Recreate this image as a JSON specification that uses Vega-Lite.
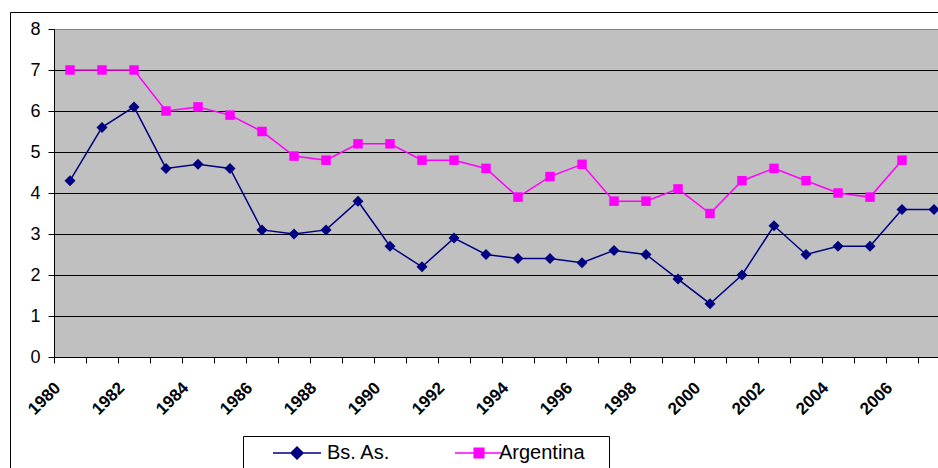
{
  "$schema": "https://vega.github.io/schema/vega-lite/v6.json",
  "width": 930,
  "height": 458,
  "autosize": {"type": "none"},
  "padding": {"left": 10, "top": 12, "right": -2, "bottom": -2},
  "background": "#ffffff",
  "data": {"values": [
    {"year": 1980, "series": "Bs. As.", "value": 4.3},
    {"year": 1981, "series": "Bs. As.", "value": 5.6},
    {"year": 1982, "series": "Bs. As.", "value": 6.1},
    {"year": 1983, "series": "Bs. As.", "value": 4.6},
    {"year": 1984, "series": "Bs. As.", "value": 4.7},
    {"year": 1985, "series": "Bs. As.", "value": 4.6},
    {"year": 1986, "series": "Bs. As.", "value": 3.1},
    {"year": 1987, "series": "Bs. As.", "value": 3.0},
    {"year": 1988, "series": "Bs. As.", "value": 3.1},
    {"year": 1989, "series": "Bs. As.", "value": 3.8},
    {"year": 1990, "series": "Bs. As.", "value": 2.7},
    {"year": 1991, "series": "Bs. As.", "value": 2.2},
    {"year": 1992, "series": "Bs. As.", "value": 2.9},
    {"year": 1993, "series": "Bs. As.", "value": 2.5},
    {"year": 1994, "series": "Bs. As.", "value": 2.4},
    {"year": 1995, "series": "Bs. As.", "value": 2.4},
    {"year": 1996, "series": "Bs. As.", "value": 2.3},
    {"year": 1997, "series": "Bs. As.", "value": 2.6},
    {"year": 1998, "series": "Bs. As.", "value": 2.5},
    {"year": 1999, "series": "Bs. As.", "value": 1.9},
    {"year": 2000, "series": "Bs. As.", "value": 1.3},
    {"year": 2001, "series": "Bs. As.", "value": 2.0},
    {"year": 2002, "series": "Bs. As.", "value": 3.2},
    {"year": 2003, "series": "Bs. As.", "value": 2.5},
    {"year": 2004, "series": "Bs. As.", "value": 2.7},
    {"year": 2005, "series": "Bs. As.", "value": 2.7},
    {"year": 2006, "series": "Bs. As.", "value": 3.6},
    {"year": 2007, "series": "Bs. As.", "value": 3.6},
    {"year": 1980, "series": "Argentina", "value": 7.0},
    {"year": 1981, "series": "Argentina", "value": 7.0},
    {"year": 1982, "series": "Argentina", "value": 7.0},
    {"year": 1983, "series": "Argentina", "value": 6.0},
    {"year": 1984, "series": "Argentina", "value": 6.1},
    {"year": 1985, "series": "Argentina", "value": 5.9},
    {"year": 1986, "series": "Argentina", "value": 5.5},
    {"year": 1987, "series": "Argentina", "value": 4.9},
    {"year": 1988, "series": "Argentina", "value": 4.8},
    {"year": 1989, "series": "Argentina", "value": 5.2},
    {"year": 1990, "series": "Argentina", "value": 5.2},
    {"year": 1991, "series": "Argentina", "value": 4.8},
    {"year": 1992, "series": "Argentina", "value": 4.8},
    {"year": 1993, "series": "Argentina", "value": 4.6},
    {"year": 1994, "series": "Argentina", "value": 3.9},
    {"year": 1995, "series": "Argentina", "value": 4.4},
    {"year": 1996, "series": "Argentina", "value": 4.7},
    {"year": 1997, "series": "Argentina", "value": 3.8},
    {"year": 1998, "series": "Argentina", "value": 3.8},
    {"year": 1999, "series": "Argentina", "value": 4.1},
    {"year": 2000, "series": "Argentina", "value": 3.5},
    {"year": 2001, "series": "Argentina", "value": 4.3},
    {"year": 2002, "series": "Argentina", "value": 4.6},
    {"year": 2003, "series": "Argentina", "value": 4.3},
    {"year": 2004, "series": "Argentina", "value": 4.0},
    {"year": 2005, "series": "Argentina", "value": 3.9},
    {"year": 2006, "series": "Argentina", "value": 4.8}
  ]},
  "encoding": {
    "x": {
      "field": "year",
      "type": "ordinal",
      "scale": {"type": "band", "range": [44, 940], "paddingInner": 0, "paddingOuter": 0},
      "axis": {
        "orient": "bottom",
        "offset": -113,
        "title": null,
        "bandPosition": 0,
        "grid": false,
        "domainColor": "#000000",
        "domainWidth": 1,
        "ticks": true,
        "tickColor": "#000000",
        "tickSize": 6,
        "tickWidth": 1,
        "labelAngle": -45,
        "labelAlign": "right",
        "labelBaseline": "middle",
        "labelFont": "Liberation Sans",
        "labelFontSize": 17,
        "labelFontWeight": "bold",
        "labelColor": "#000000",
        "labelPadding": 22,
        "labelOffset": -12,
        "labelOverlap": false,
        "labelBound": false,
        "labelFlush": false,
        "labelExpr": "datum.value % 2 === 0 ? datum.label : ''",
        "zindex": 0
      }
    }
  },
  "layer": [
    {
      "mark": {"type": "line", "strokeWidth": 1.5},
      "encoding": {
        "y": {
          "field": "value",
          "type": "quantitative",
          "scale": {"domain": [0, 8], "range": [345, 17], "nice": false},
          "axis": {
            "orient": "left",
            "offset": -44,
            "values": [4],
            "title": null,
            "grid": true,
            "gridColor": "#C0C0C0",
            "gridWidth": 328,
            "gridOpacity": 1,
            "domain": false,
            "ticks": false,
            "labels": false,
            "zindex": 0
          }
        },
        "color": {
          "field": "series",
          "type": "nominal",
          "scale": {"domain": ["Bs. As.", "Argentina"], "range": ["#000080", "#FF00FF"]},
          "legend": {
            "orient": "none",
            "legendX": 233,
            "legendY": 424,
            "direction": "horizontal",
            "title": " ",
            "titleOrient": "right",
            "titleFontSize": 1,
            "titlePadding": 17,
            "padding": 7,
            "strokeColor": "#000000",
            "fillColor": "#ffffff",
            "symbolSize": 144,
            "symbolStrokeWidth": 1.5,
            "labelFont": "Liberation Sans",
            "labelFontSize": 20,
            "labelColor": "#000000",
            "labelOffset": 57,
            "columnPadding": 41,
            "encode": {
              "symbols": {
                "update": {
                  "shape": {"signal": "datum.value === 'Bs. As.' ? 'M2.167,0H10.167M6.167,-1L7.167,0L6.167,1L5.167,0Z' : 'M2.167,0H10.167M5.367,-0.8H6.967V0.8H5.367Z'"},
                  "strokeWidth": {"value": 1.5},
                  "opacity": {"value": 1}
                }
              },
              "labels": {
                "update": {
                  "dx": {"signal": "datum.value === 'Argentina' ? -10 : 0"}
                }
              }
            }
          }
        }
      }
    },
    {
      "mark": {"type": "point", "filled": true, "opacity": 1},
      "encoding": {
        "y": {
          "field": "value",
          "type": "quantitative",
          "scale": {"domain": [0, 8], "range": [345, 17], "nice": false},
          "axis": {
            "orient": "left",
            "offset": -44,
            "values": [0, 1, 2, 3, 4, 5, 6, 7, 8],
            "title": null,
            "grid": true,
            "gridColor": {"condition": {"test": "datum.value === 8", "value": "#808080"}, "value": "#000000"},
            "gridWidth": 1,
            "gridOpacity": 1,
            "domain": true,
            "domainColor": "#000000",
            "domainWidth": 1,
            "ticks": true,
            "tickColor": "#000000",
            "tickSize": 6,
            "labelFont": "Liberation Sans",
            "labelFontSize": 18,
            "labelColor": "#000000",
            "labelPadding": 8,
            "labelAlign": "right",
            "labelBaseline": "middle",
            "zindex": 0
          }
        },
        "color": {
          "field": "series",
          "type": "nominal",
          "scale": {"domain": ["Bs. As.", "Argentina"], "range": ["#000080", "#FF00FF"]}
        },
        "shape": {"condition": {"test": "datum.series === 'Bs. As.'", "value": "diamond"}, "value": "square"},
        "size": {"condition": {"test": "datum.series === 'Bs. As.'", "value": 121}, "value": 90}
      }
    }
  ],
  "resolve": {"axis": {"y": "independent"}},
  "config": {
    "font": "Liberation Sans",
    "view": {"stroke": "#000000", "strokeWidth": 1, "fill": "#ffffff"}
  }
}
